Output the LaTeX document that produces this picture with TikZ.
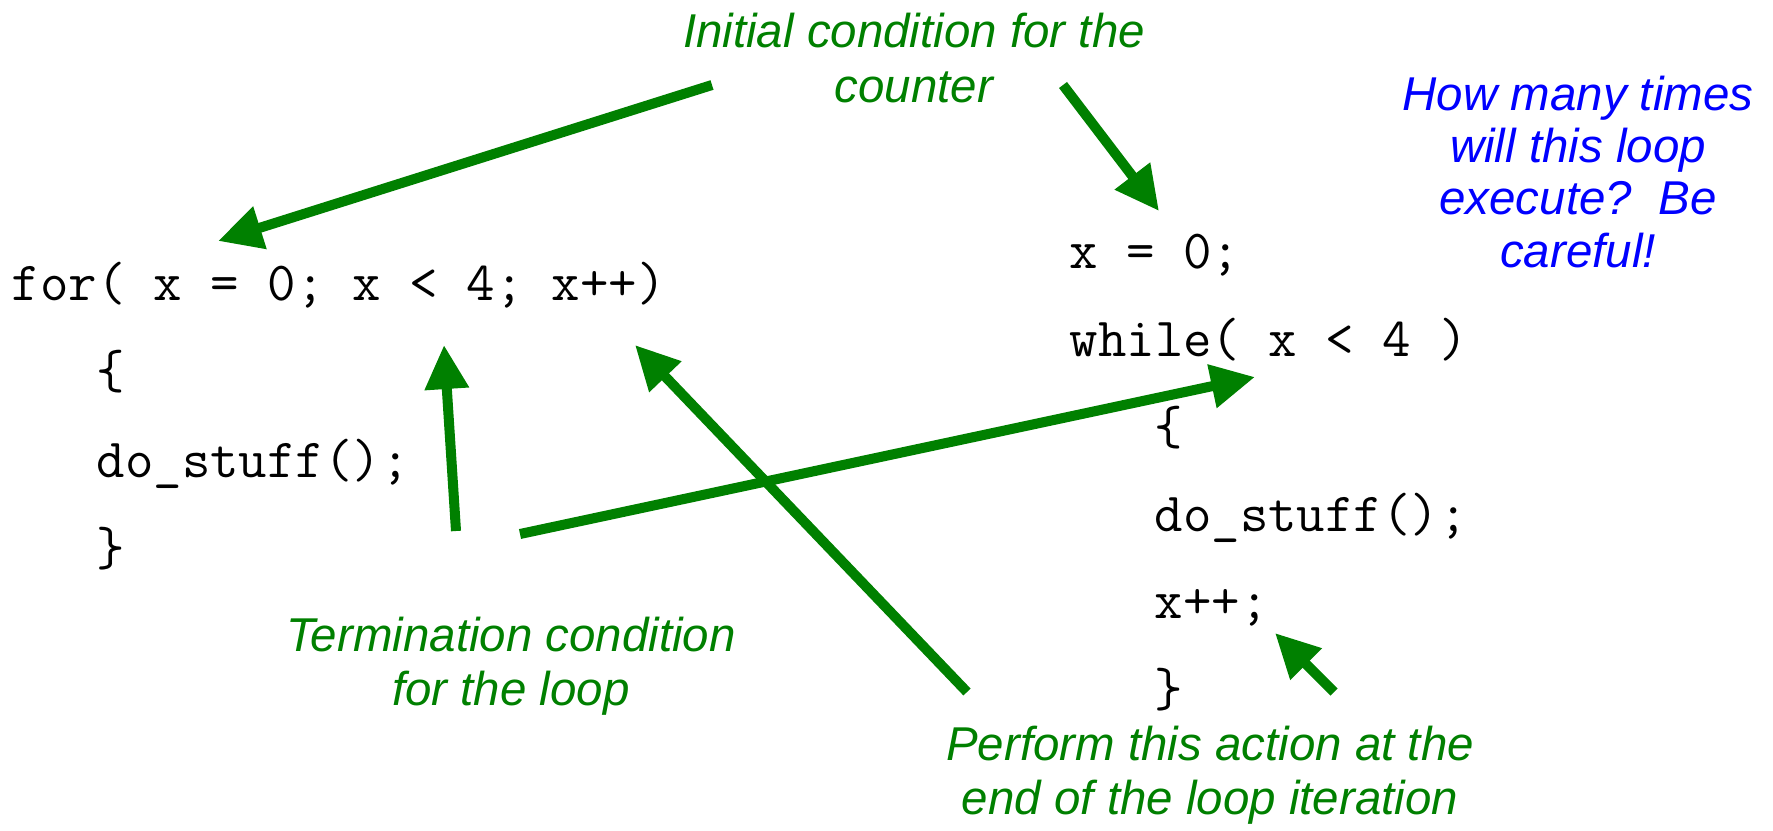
\documentclass[tikz,border=0pt]{standalone}
\usepackage{fontspec}
\setmainfont{Liberation Sans}
\usetikzlibrary{arrows.meta}
\definecolor{notegreen}{HTML}{008000}
\definecolor{noteblue}{HTML}{0000FF}

\begin{document}
\begin{tikzpicture}[x=0.01cm, y=-0.01cm,
  code/.style={anchor=base west, inner sep=0pt, font=\ttfamily\fontsize{15.7}{18}\selectfont},
  note/.style={align=center, inner sep=0pt, text=notegreen, font=\itshape\fontsize{13.5}{15.4}\selectfont},
  arr/.style={notegreen, line width=2.85pt, -{Triangle[length=0.44cm, width=0.42cm]}}]
\useasboundingbox (0,0) rectangle (1773,830);

% for loop
\node[code] (for) at (11,300) {for( x = 0; x < 4; x++)};
\node[code] (fopen) at (96,388) {\{};
\node[code] (fbody) at (96,477) {do\_stuff();};
\node[code] (fclose) at (96,565) {\}};

% while loop
\node[code] (init) at (1069,268) {x = 0;};
\node[code] (while) at (1069,356) {while( x < 4 )};
\node[code] (wopen) at (1154,444) {\{};
\node[code] (wbody) at (1154,531) {do\_stuff();};
\node[code] (incr) at (1154,618) {x++;};
\node[code] (wclose) at (1154,706) {\}};

% notes
\node[note] (initnote) at (914,58) {Initial condition for the\\counter};
\node[note] (termnote) at (511,666) {Termination condition\\for the loop};
\node[note] (perfnote) at (1210,775) {Perform this action at the\\end of the loop iteration};
\node[note, text=noteblue, font=\itshape\fontsize{13.5}{14.8}\selectfont] (howmany) at (1578,172)
  {How many times\\will this loop\\execute?\ \ Be\\careful!};

% arrow ends
\coordinate (initA) at (712,85);
\coordinate (initB) at (1063,85);
\coordinate (termA) at (456,531);
\coordinate (termB) at (520,534);
\coordinate (perfA) at (967,692);
\coordinate (perfB) at (1334,692);
\coordinate (forinit) at (218,241);
\coordinate (forcond) at (444,345);
\coordinate (forincr) at (635,345);
\coordinate (winit) at (1159,211);
\coordinate (wcond) at (1255,377);
\coordinate (wincr) at (1275,633);

\draw[arr] (initA) -- (forinit);
\draw[arr] (initB) -- (winit);
\draw[arr] (termA) -- (forcond);
\draw[arr] (termB) -- (wcond);
\draw[arr] (perfA) -- (forincr);
\draw[arr] (perfB) -- (wincr);
\end{tikzpicture}
\end{document}
